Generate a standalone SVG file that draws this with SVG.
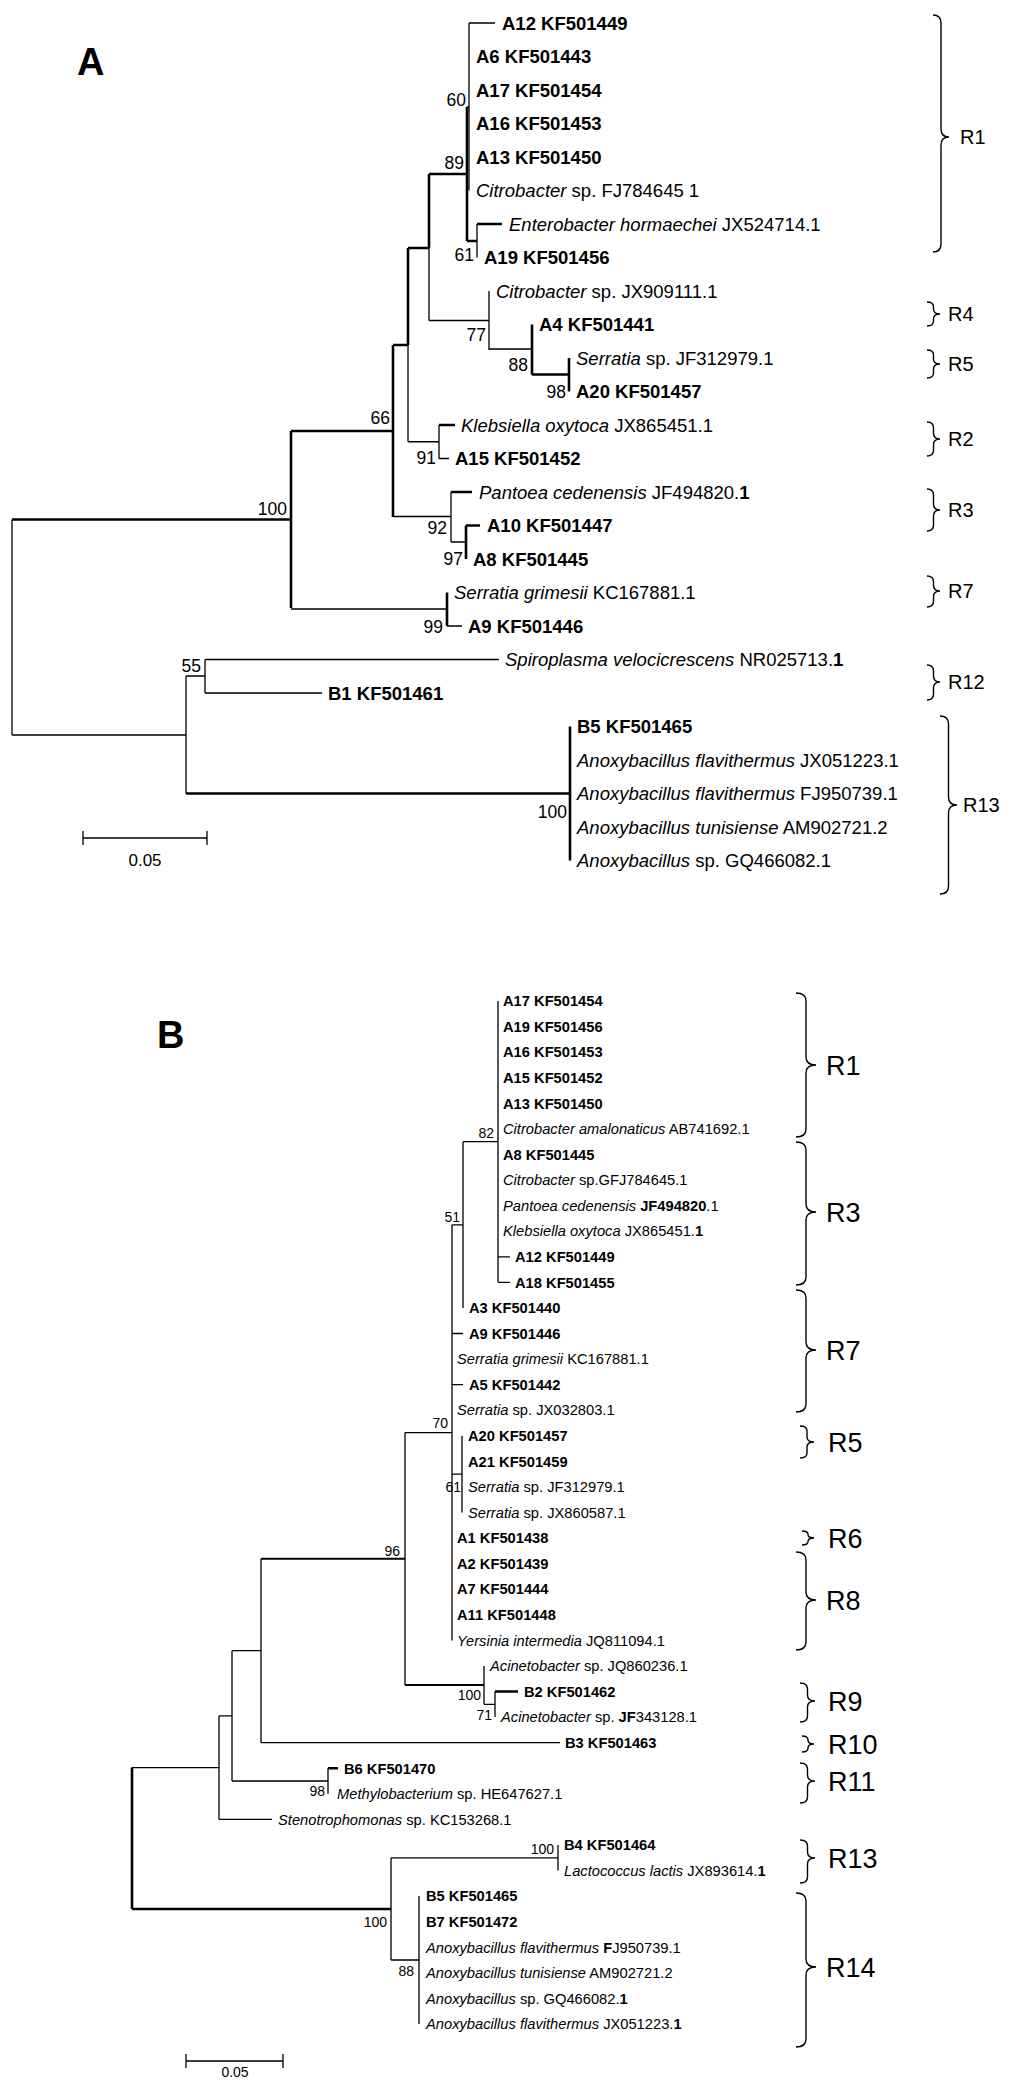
<svg xmlns="http://www.w3.org/2000/svg" width="1024" height="2087" viewBox="0 0 1024 2087">
<style>
.t{stroke:#000;stroke-width:1.3;fill:none}
.k{stroke:#000;stroke-width:2.6;fill:none}
.m{stroke:#000;stroke-width:2;fill:none}
.br{stroke:#000;stroke-width:1.4;fill:none}
text{font-family:'Liberation Sans',Arial,sans-serif;fill:#000}
.a{font-size:18.5px}
.b{font-size:14.7px}
.bs{font-size:17.5px;text-anchor:end}
.bsb{font-size:14px;text-anchor:end}
.ra{font-size:20px}
.rb{font-size:27px}
.pl{font-size:38px;font-weight:bold}
.sc{text-anchor:middle}
.i{font-style:italic}
.w{font-weight:bold}
</style>
<rect width="1024" height="2087" fill="#fff"/>

<g id="panel-labels">
<text class="pl" x="77" y="75">A</text>
<text class="pl" x="157" y="1048">B</text>
</g>

<g id="connectors-A">
<path class="k" d="M12,519.5H291M291,431V608M291,431H393M393,345V517M393,345H408M408,248V345M408,248H429M429,174V248M429,174H467M467,107V241M467,241H477M477,224H502"/>
<path class="t" d="M408,345V441.75M429,248V320.5M469,23V190.5M467,107H469M469,23H495M477,224V257.5M429,320.5H489M489,291V350M489,349H532"/>
<path class="k" d="M532,324.5V374.5M532,374.5H569M569,358V391.5M439,425H455M451,492H472M466,525.5V559M466,525.5H480M447,592.5V626"/>
<path class="t" d="M408,441.75H439M439,425V458.5M439,458.5H449M393,516.5H451M451,492V542M451,542H466M291,609H447M447,626H462"/>
<path class="t" d="M12,519.5V735M12,735H186M186,676V793.5M186,676H205M205,659.5V693M205,659.5H499M205,693H322"/>
<path class="k" d="M186,793.5H570M570,726.5V860.5"/>
</g>

<g id="bootstrap-A">
<text class="bs" x="466" y="106">60</text>
<text class="bs" x="464" y="169">89</text>
<text class="bs" x="474" y="261">61</text>
<text class="bs" x="486" y="341">77</text>
<text class="bs" x="528" y="371">88</text>
<text class="bs" x="566" y="398">98</text>
<text class="bs" x="390" y="424">66</text>
<text class="bs" x="436" y="464">91</text>
<text class="bs" x="287" y="515">100</text>
<text class="bs" x="447" y="534">92</text>
<text class="bs" x="463" y="565">97</text>
<text class="bs" x="443" y="633">99</text>
<text class="bs" x="201" y="672">55</text>
<text class="bs" x="567" y="818">100</text>
</g>

<g id="leaves-A" class="a">
<g id="a-A12"><text class="w" x="502" y="29.5">A12 KF501449</text></g>
<g id="a-A6"><text class="w" x="476" y="63">A6 KF501443</text></g>
<g id="a-A17"><text class="w" x="476" y="96.5">A17 KF501454</text></g>
<g id="a-A16"><text class="w" x="476" y="130">A16 KF501453</text></g>
<g id="a-A13"><text class="w" x="476" y="163.5">A13 KF501450</text></g>
<g id="a-citroFJ"><text x="476" y="197"><tspan class="i">Citrobacter</tspan> sp. FJ784645 1</text></g>
<g id="a-entero"><text x="509" y="230.5"><tspan class="i">Enterobacter hormaechei</tspan> JX524714.1</text></g>
<g id="a-A19"><text class="w" x="484" y="264">A19 KF501456</text></g>
<g id="a-citroJX"><text x="496" y="297.5"><tspan class="i">Citrobacter</tspan> sp. JX909111.1</text></g>
<g id="a-A4"><text class="w" x="539" y="331">A4 KF501441</text></g>
<g id="a-serrJF"><text x="576" y="364.5"><tspan class="i">Serratia</tspan> sp. JF312979.1</text></g>
<g id="a-A20"><text class="w" x="576" y="398">A20 KF501457</text></g>
<g id="a-kleb"><text x="461" y="431.5"><tspan class="i">Klebsiella oxytoca</tspan> JX865451.1</text></g>
<g id="a-A15"><text class="w" x="455" y="465">A15 KF501452</text></g>
<g id="a-pant"><text x="479" y="498.5"><tspan class="i">Pantoea cedenensis</tspan> JF494820.<tspan class="w">1</tspan></text></g>
<g id="a-A10"><text class="w" x="487" y="532">A10 KF501447</text></g>
<g id="a-A8"><text class="w" x="473" y="565.5">A8 KF501445</text></g>
<g id="a-sgrim"><text x="454" y="599"><tspan class="i">Serratia grimesii</tspan> KC167881.1</text></g>
<g id="a-A9"><text class="w" x="468" y="632.5">A9 KF501446</text></g>
<g id="a-spiro"><text x="505" y="666"><tspan class="i">Spiroplasma velocicrescens</tspan> NR025713.<tspan class="w">1</tspan></text></g>
<g id="a-B1"><text class="w" x="328" y="699.5">B1 KF501461</text></g>
<g id="a-B5"><text class="w" x="577" y="733">B5 KF501465</text></g>
<g id="a-anoJX"><text x="577" y="766.5"><tspan class="i">Anoxybacillus flavithermus</tspan> JX051223.1</text></g>
<g id="a-anoFJ"><text x="577" y="800"><tspan class="i">Anoxybacillus flavithermus</tspan> FJ950739.1</text></g>
<g id="a-anoTun"><text x="577" y="833.5"><tspan class="i">Anoxybacillus tunisiense</tspan> AM902721.2</text></g>
<g id="a-anoSp"><text x="577" y="867"><tspan class="i">Anoxybacillus</tspan> sp. GQ466082.1</text></g>
</g>

<g id="groups-A">
<g id="a-R1"><path class="br" d="M933,15Q941,15 941,23V129Q941,137 949,137Q941,137 941,145V244Q941,252 933,252"/><text class="ra" x="960" y="144">R1</text></g>
<g id="a-R4"><path class="br" d="M927,302Q933.5,302 933.5,307V309Q933.5,314 940,314Q933.5,314 933.5,319V321Q933.5,326 927,326"/><text class="ra" x="948" y="321">R4</text></g>
<g id="a-R5"><path class="br" d="M927,350Q933.5,350 933.5,355V359Q933.5,364 940,364Q933.5,364 933.5,369V373Q933.5,378 927,378"/><text class="ra" x="948" y="371">R5</text></g>
<g id="a-R2"><path class="br" d="M927,422Q933.5,422 933.5,428V433Q933.5,439 940,439Q933.5,439 933.5,445V450Q933.5,456 927,456"/><text class="ra" x="948" y="446">R2</text></g>
<g id="a-R3"><path class="br" d="M927,489Q933.5,489 933.5,495V504Q933.5,510 940,510Q933.5,510 933.5,516V525Q933.5,531 927,531"/><text class="ra" x="948" y="517">R3</text></g>
<g id="a-R7"><path class="br" d="M927,576Q933.5,576 933.5,582V585Q933.5,591 940,591Q933.5,591 933.5,597V601Q933.5,607 927,607"/><text class="ra" x="948" y="598">R7</text></g>
<g id="a-R12"><path class="br" d="M927,665Q933.5,665 933.5,671V676Q933.5,682 940,682Q933.5,682 933.5,688V694Q933.5,700 927,700"/><text class="ra" x="948" y="689">R12</text></g>
<g id="a-R13"><path class="br" d="M940,716Q948.5,716 948.5,724V797Q948.5,805 957,805Q948.5,805 948.5,813V886Q948.5,894 940,894"/><text class="ra" x="963" y="812">R13</text></g>
</g>

<g id="scale-A">
<path class="t" d="M83,838H207M83,831V845M207,831V845"/>
<text class="a sc" x="145" y="866" style="font-size:17px">0.05</text>
</g>

<g id="connectors-B">
<path class="t" d="M498,1001V1282.3M498,1256.8H510M498,1282.3H510M463,1141.7H498M463,1141.7V1307.9M452,1224.8H463M452,1224.8V1640.4M452,1333.5H463M452,1384.6H463M452,1474.2H462M462,1435.8V1512.5M405,1432.6H452M405,1432.6V1685"/>
<path class="m" d="M405,1685H484M261,1558.8H405"/>
<path class="t" d="M484,1666V1704.3M484,1704.3H495M495,1691.5V1717.1"/>
<path class="k" d="M495,1691.5H518M328,1768.3H338"/>
<path class="t" d="M261,1558.8V1742.7M261,1742.7H560M232,1650.7H261M232,1650.7V1781M232,1781H328M328,1768.3V1793.8M219,1715.9H232M219,1715.9V1819.4M219,1819.4H272M132,1767.6H219"/>
<path class="k" d="M132,1767.6V1909M132,1909H391"/>
<path class="t" d="M391,1857.8V1960M391,1857.8H558M558,1845V1870.6M391,1960H419M419,1896.1V2024"/>
</g>

<g id="bootstrap-B">
<text class="bsb" x="494" y="1138">82</text>
<text class="bsb" x="460" y="1222">51</text>
<text class="bsb" x="448" y="1428">70</text>
<text class="bsb" x="461" y="1492">61</text>
<text class="bsb" x="400" y="1556">96</text>
<text class="bsb" x="481" y="1700">100</text>
<text class="bsb" x="492" y="1720">71</text>
<text class="bsb" x="325" y="1796">98</text>
<text class="bsb" x="554" y="1854">100</text>
<text class="bsb" x="387" y="1927">100</text>
<text class="bsb" x="414" y="1976">88</text>
</g>

<g id="leaves-B" class="b">
<g id="b-A17"><text class="w" x="503" y="1006.2">A17 KF501454</text></g>
<g id="b-A19"><text class="w" x="503" y="1031.8">A19 KF501456</text></g>
<g id="b-A16"><text class="w" x="503" y="1057.4">A16 KF501453</text></g>
<g id="b-A15"><text class="w" x="503" y="1082.9">A15 KF501452</text></g>
<g id="b-A13"><text class="w" x="503" y="1108.5">A13 KF501450</text></g>
<g id="b-citroAm"><text x="503" y="1134.1"><tspan class="i">Citrobacter amalonaticus</tspan> AB741692.1</text></g>
<g id="b-A8"><text class="w" x="503" y="1159.7">A8 KF501445</text></g>
<g id="b-citroG"><text x="503" y="1185.2"><tspan class="i">Citrobacter</tspan> sp.GFJ784645.1</text></g>
<g id="b-pant"><text x="503" y="1210.8"><tspan class="i">Pantoea cedenensis</tspan> <tspan class="w">JF494820</tspan>.1</text></g>
<g id="b-kleb"><text x="503" y="1236.4"><tspan class="i">Klebsiella oxytoca</tspan> JX865451.<tspan class="w">1</tspan></text></g>
<g id="b-A12"><text class="w" x="515" y="1262">A12 KF501449</text></g>
<g id="b-A18"><text class="w" x="515" y="1287.5">A18 KF501455</text></g>
<g id="b-A3"><text class="w" x="469" y="1313.1">A3 KF501440</text></g>
<g id="b-A9"><text class="w" x="469" y="1338.7">A9 KF501446</text></g>
<g id="b-sgrim"><text x="457" y="1364.3"><tspan class="i">Serratia grimesii</tspan> KC167881.1</text></g>
<g id="b-A5"><text class="w" x="469" y="1389.8">A5 KF501442</text></g>
<g id="b-serrJX03"><text x="457" y="1415.4"><tspan class="i">Serratia</tspan> sp. JX032803.1</text></g>
<g id="b-A20"><text class="w" x="468" y="1441">A20 KF501457</text></g>
<g id="b-A21"><text class="w" x="468" y="1466.6">A21 KF501459</text></g>
<g id="b-serrJF"><text x="468" y="1492.1"><tspan class="i">Serratia</tspan> sp. JF312979.1</text></g>
<g id="b-serrJX86"><text x="468" y="1517.7"><tspan class="i">Serratia</tspan> sp. JX860587.1</text></g>
<g id="b-A1"><text class="w" x="457" y="1543.3">A1 KF501438</text></g>
<g id="b-A2"><text class="w" x="457" y="1568.9">A2 KF501439</text></g>
<g id="b-A7"><text class="w" x="457" y="1594.4">A7 KF501444</text></g>
<g id="b-A11"><text class="w" x="457" y="1620">A11 KF501448</text></g>
<g id="b-yers"><text x="457" y="1645.6"><tspan class="i">Yersinia intermedia</tspan> JQ811094.1</text></g>
<g id="b-acinJQ"><text x="490" y="1671.2"><tspan class="i">Acinetobacter</tspan> sp. JQ860236.1</text></g>
<g id="b-B2"><text class="w" x="524" y="1696.7">B2 KF501462</text></g>
<g id="b-acinJF"><text x="501" y="1722.3"><tspan class="i">Acinetobacter</tspan> sp. <tspan class="w">JF</tspan>343128.1</text></g>
<g id="b-B3"><text class="w" x="565" y="1747.9">B3 KF501463</text></g>
<g id="b-B6"><text class="w" x="344" y="1773.5">B6 KF501470</text></g>
<g id="b-methy"><text x="337" y="1799"><tspan class="i">Methylobacterium</tspan> sp. HE647627.1</text></g>
<g id="b-steno"><text x="278" y="1824.6"><tspan class="i">Stenotrophomonas</tspan> sp. KC153268.1</text></g>
<g id="b-B4"><text class="w" x="564" y="1850.2">B4 KF501464</text></g>
<g id="b-lacto"><text x="564" y="1875.8"><tspan class="i">Lactococcus lactis</tspan> JX893614.<tspan class="w">1</tspan></text></g>
<g id="b-B5"><text class="w" x="426" y="1901.3">B5 KF501465</text></g>
<g id="b-B7"><text class="w" x="426" y="1926.9">B7 KF501472</text></g>
<g id="b-anoFJ"><text x="426" y="1952.5"><tspan class="i">Anoxybacillus flavithermus</tspan> <tspan class="w">F</tspan>J950739.1</text></g>
<g id="b-anoTun"><text x="426" y="1978.1"><tspan class="i">Anoxybacillus tunisiense</tspan> AM902721.2</text></g>
<g id="b-anoSp"><text x="426" y="2003.6"><tspan class="i">Anoxybacillus</tspan> sp. GQ466082.<tspan class="w">1</tspan></text></g>
<g id="b-anoJX"><text x="426" y="2029.2"><tspan class="i">Anoxybacillus flavithermus</tspan> JX051223.<tspan class="w">1</tspan></text></g>
</g>

<g id="groups-B">
<g id="b-R1"><path class="br" d="M796,993Q806,993 806,1001V1057Q806,1065 816,1065Q806,1065 806,1073V1129Q806,1137 796,1137"/><text class="rb" x="826" y="1074.5">R1</text></g>
<g id="b-R3"><path class="br" d="M796,1142Q806,1142 806,1150V1204Q806,1212 816,1212Q806,1212 806,1220V1277Q806,1285 796,1285"/><text class="rb" x="826" y="1221.5">R3</text></g>
<g id="b-R7"><path class="br" d="M796,1290Q806,1290 806,1298V1342Q806,1350 816,1350Q806,1350 806,1358V1404Q806,1412 796,1412"/><text class="rb" x="826" y="1359.5">R7</text></g>
<g id="b-R5"><path class="br" d="M800,1426Q807,1426 807,1431V1437Q807,1442 814,1442Q807,1442 807,1447V1453Q807,1458 800,1458"/><text class="rb" x="828" y="1451.5">R5</text></g>
<g id="b-R6"><path class="br" d="M802,1531Q808,1531 808,1534.5Q808,1538 814,1538Q808,1538 808,1541.5Q808,1545 802,1545"/><text class="rb" x="828" y="1547.5">R6</text></g>
<g id="b-R8"><path class="br" d="M796,1552Q806,1552 806,1560V1592Q806,1600 816,1600Q806,1600 806,1608V1642Q806,1650 796,1650"/><text class="rb" x="826" y="1609.5">R8</text></g>
<g id="b-R9"><path class="br" d="M800,1683Q807.5,1683 807.5,1689V1695Q807.5,1701 815,1701Q807.5,1701 807.5,1707V1716Q807.5,1722 800,1722"/><text class="rb" x="828" y="1710.5">R9</text></g>
<g id="b-R10"><path class="br" d="M802,1736Q808,1736 808,1740Q808,1744 814,1744Q808,1744 808,1748Q808,1752 802,1752"/><text class="rb" x="828" y="1753.5">R10</text></g>
<g id="b-R11"><path class="br" d="M800,1763Q807.5,1763 807.5,1769V1775Q807.5,1781 815,1781Q807.5,1781 807.5,1787V1797Q807.5,1803 800,1803"/><text class="rb" x="828" y="1790.5">R11</text></g>
<g id="b-R13"><path class="br" d="M800,1840Q807.5,1840 807.5,1846V1852Q807.5,1858 815,1858Q807.5,1858 807.5,1864V1877Q807.5,1883 800,1883"/><text class="rb" x="828" y="1867.5">R13</text></g>
<g id="b-R14"><path class="br" d="M796,1893Q806,1893 806,1901V1959Q806,1967 816,1967Q806,1967 806,1975V2039Q806,2047 796,2047"/><text class="rb" x="826" y="1976.5">R14</text></g>
</g>

<g id="scale-B">
<path class="t" d="M186,2061H283M186,2054V2068M283,2054V2068"/>
<text class="b sc" x="235" y="2077" style="font-size:14px">0.05</text>
</g>
</svg>
